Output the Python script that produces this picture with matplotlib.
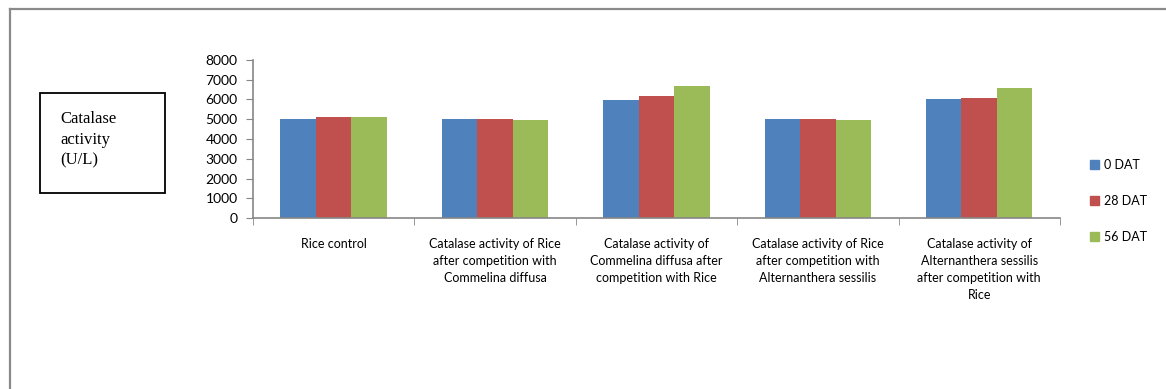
import matplotlib.pyplot as plt
from matplotlib.patches import Rectangle, Patch
from matplotlib.lines import Line2D
import numpy as np

categories = [
    "Rice control",
    "Catalase activity of Rice\nafter competition with\nCommelina diffusa",
    "Catalase activity of\nCommelina diffusa after\ncompetition with Rice",
    "Catalase activity of Rice\nafter competition with\nAlternanthera sessilis",
    "Catalase activity of\nAlternanthera sessilis\nafter competition with\nRice",
]
series_names = ["0 DAT", "28 DAT", "56 DAT"]
dat0 = [5000, 5000, 5950, 5000, 6000]
dat28 = [5100, 5000, 6170, 5000, 6100]
dat56 = [5100, 4980, 6700, 4980, 6560]
colors = ["#4F81BD", "#C0504D", "#9BBB59"]

plt.rcParams['font.family'] = ['Lato', 'DejaVu Sans']

fig = plt.figure(figsize=(11.66, 3.89), dpi=100)
ax = fig.add_axes([0.217, 0.439, 0.692, 0.407])

x = np.arange(len(categories))
w = 0.22
for i, vals in enumerate([dat0, dat28, dat56]):
    ax.bar(x + (i - 1) * w, vals, width=w, color=colors[i], label=series_names[i])

ax.set_xlim(-0.5, len(categories) - 0.5)
ax.set_ylim(0, 8000)
ax.set_yticks(np.arange(0, 8001, 1000))
ax.set_xticks(x)
ax.set_xticklabels(categories, fontsize=9, linespacing=1.5, va='top')
ax.set_xticks(np.arange(-0.5, len(categories)), minor=True)
ax.tick_params(axis='x', which='major', length=0, pad=14)
ax.tick_params(axis='x', which='minor', length=5, color='#868686', direction='out')
ax.tick_params(axis='y', labelsize=10, length=5, color='#868686', pad=6)
for s in ['top', 'right']:
    ax.spines[s].set_visible(False)
for s in ['left', 'bottom']:
    ax.spines[s].set_color('#868686')
    ax.spines[s].set_linewidth(1.2)

handles = [Patch(color=c) for c in colors]
fig.legend(handles, series_names, loc='upper left', bbox_to_anchor=(0.925, 0.62),
           frameon=False, fontsize=9, handlelength=0.7, handleheight=0.7,
           handletextpad=0.45, labelspacing=1.9)

# y label box
fig.patches.append(Rectangle((40 / 1166, 1 - 193 / 389), 125 / 1166, 100 / 389,
                             transform=fig.transFigure, fill=False,
                             edgecolor='black', linewidth=1.3))
fig.text(60 / 1166, 1 - 140 / 389, "Catalase\nactivity\n(U/L)", fontsize=12,
         family=['Liberation Serif'], va='center', ha='left', linespacing=1.4)

# outer frame
fig.add_artist(Line2D([10 / 1166, 10 / 1166], [0, 1 - 9 / 389],
                      transform=fig.transFigure, color='#8a8a8a', linewidth=1.6))
fig.add_artist(Line2D([10 / 1166, 1], [1 - 9 / 389, 1 - 9 / 389],
                      transform=fig.transFigure, color='#8a8a8a', linewidth=1.6))

fig.savefig("out.png", dpi=100)
